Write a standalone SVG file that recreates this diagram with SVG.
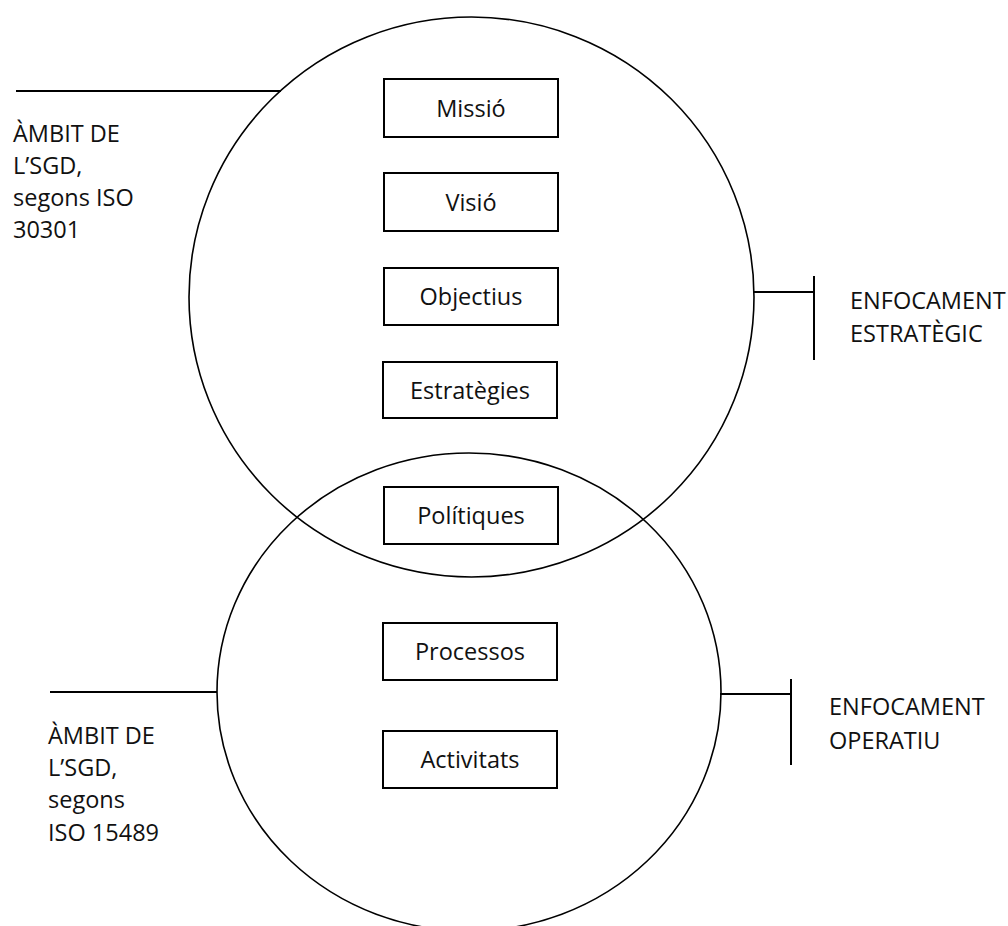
<svg xmlns="http://www.w3.org/2000/svg" width="1008" height="926" viewBox="0 0 1008 926">
  <style>
    .ring { fill: none; stroke: #000; stroke-width: 1.6; }
    .box rect { fill: #fff; stroke: #000; stroke-width: 2; }
    .rule { fill: none; stroke: #000; stroke-width: 2; }
    text { font-family: "Open Sans", "Noto Sans", "Liberation Sans", sans-serif; font-size: 23.5px; fill: #111; }
    .box text { text-anchor: middle; }
  </style>
  <rect width="1008" height="926" fill="#fff"/>

  <!-- scope circles -->
  <g id="scope-30301">
    <ellipse class="ring" cx="471.5" cy="297" rx="282.5" ry="280"/>
  </g>
  <g id="scope-15489">
    <ellipse class="ring" cx="469" cy="692" rx="252" ry="239"/>
  </g>

  <!-- leader lines and brackets -->
  <g id="connectors">
    <line class="rule" x1="16" y1="91" x2="281" y2="91"/>
    <line class="rule" x1="50" y1="692" x2="217" y2="692"/>
    <line class="rule" x1="754" y1="292" x2="814" y2="292"/>
    <line class="rule" x1="814" y1="276" x2="814" y2="360"/>
    <line class="rule" x1="720" y1="694" x2="791" y2="694"/>
    <line class="rule" x1="791" y1="679" x2="791" y2="765"/>
  </g>

  <!-- elements -->
  <g id="missio" class="box">
    <rect x="384" y="79" width="174" height="58"/>
    <text x="471" y="116.5">Missió</text>
  </g>
  <g id="visio" class="box">
    <rect x="384" y="173" width="174" height="58"/>
    <text x="471" y="210.5">Visió</text>
  </g>
  <g id="objectius" class="box">
    <rect x="384" y="268" width="174" height="57"/>
    <text x="471" y="305">Objectius</text>
  </g>
  <g id="estrategies" class="box">
    <rect x="383" y="362" width="174" height="56"/>
    <text x="470" y="398.5">Estratègies</text>
  </g>
  <g id="politiques" class="box">
    <rect x="384" y="487" width="174" height="57"/>
    <text x="471" y="524">Polítiques</text>
  </g>
  <g id="processos" class="box">
    <rect x="383" y="623" width="174" height="57"/>
    <text x="470" y="660">Processos</text>
  </g>
  <g id="activitats" class="box">
    <rect x="383" y="731" width="174" height="57"/>
    <text x="470" y="768">Activitats</text>
  </g>

  <!-- side labels -->
  <g id="label-30301">
    <text x="13" y="142">ÀMBIT DE</text>
    <text x="13" y="174">L’SGD,</text>
    <text x="13" y="206">segons ISO</text>
    <text x="13" y="238">30301</text>
  </g>
  <g id="label-15489">
    <text x="48" y="744">ÀMBIT DE</text>
    <text x="48" y="776">L’SGD,</text>
    <text x="48" y="808">segons</text>
    <text x="48" y="841">ISO 15489</text>
  </g>
  <g id="label-estrategic">
    <text x="850" y="309">ENFOCAMENT</text>
    <text x="850" y="342">ESTRATÈGIC</text>
  </g>
  <g id="label-operatiu">
    <text x="829" y="715">ENFOCAMENT</text>
    <text x="829" y="749">OPERATIU</text>
  </g>
</svg>
